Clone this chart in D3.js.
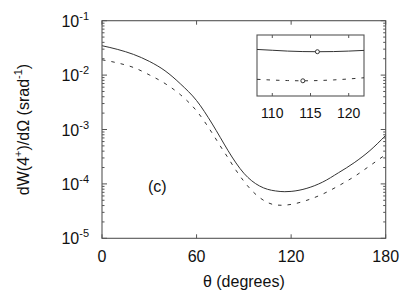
<!DOCTYPE html>
<html lang="en">
<head>
    <meta charset="UTF-8">
    <title>dW/dOmega vs theta</title>
    <script src="https://d3js.org/d3.v7.min.js"></script>
    <style>
        body { margin: 0; background: white; }
        svg text { font-family: "Liberation Sans", Arial, sans-serif; fill: #111; }
        .frame { fill: none; stroke: #555; stroke-width: 1.1px; }
        .tick { stroke: #555; stroke-width: 1px; }
        .curve { fill: none; stroke: #333; stroke-width: 1px; }
    </style>
</head>
<body>
<svg id="canvas" width="415" height="291"></svg>
<script>
    // main curves
    let theta = [0, 10, 20, 30, 40, 50, 60, 70, 75, 80, 85, 90, 95, 100, 105, 110, 116, 120, 130, 140, 150, 160, 170, 180];
    let solidValues = [0.0347, 0.0296, 0.024, 0.0179, 0.012, 0.0068, 0.0034, 0.00126, 0.000718, 0.000408, 0.000243, 0.000157,
        0.000114, 0.0000914, 0.0000796, 0.0000743, 0.0000719, 0.0000728, 0.000083, 0.000108, 0.00016, 0.000245, 0.00041, 0.00078];
    let thetaDashed = [0, 10, 20, 30, 40, 50, 60, 70, 75, 80, 85, 90, 95, 100, 105, 110, 114, 120, 130, 140, 150, 160, 170, 180];
    let dashedValues = [0.0191, 0.0167, 0.0138, 0.0101, 0.007, 0.0043, 0.0022, 0.00085, 0.0005, 0.0003, 0.000178, 0.000112,
        0.0000757, 0.0000561, 0.0000456, 0.0000411, 0.0000405, 0.000042, 0.00005, 0.000065, 0.000092, 0.000136, 0.000216, 0.000347];

    // inset (zoom around the minimum)
    let thetaInset = [108, 110, 112, 114, 116, 118, 120, 122];
    let solidInset = [7.52e-5, 7.40e-5, 7.28e-5, 7.21e-5, 7.19e-5, 7.21e-5, 7.28e-5, 7.38e-5];
    let dashedInset = [4.17e-5, 4.11e-5, 4.07e-5, 4.05e-5, 4.07e-5, 4.12e-5, 4.2e-5, 4.3e-5];
    let minTheta = [115.9, 114];
    let minValue = [7.19e-5, 4.05e-5];

    let xTicks = [0, 60, 120, 180];
    let yExponents = [-1, -2, -3, -4, -5];
    let insetTicks = [110, 115, 120];

    let svg = d3.select('svg');

    let m = {left: 102, right: 385.7, top: 20.7, bottom: 238.3};
    let x = d3.scaleLinear().domain([0, 180]).range([m.left, m.right]);
    let y = d3.scaleLog().domain([1e-5, 1e-1]).range([m.bottom, m.top]);

    // curves
    let line = d3.line()
        .x(function (d) { return x(d[0]); })
        .y(function (d) { return y(d[1]); })
        .curve(d3.curveMonotoneX);

    svg.append('path').attr('class', 'curve')
        .attr('d', line(d3.zip(theta, solidValues)));
    svg.append('path').attr('class', 'curve')
        .attr('stroke-dasharray', '3.5,6')
        .attr('d', line(d3.zip(thetaDashed, dashedValues)));

    // frame
    svg.append('rect').attr('class', 'frame')
        .attr('x', m.left).attr('y', m.top)
        .attr('width', m.right - m.left).attr('height', m.bottom - m.top);

    // x ticks, inward on bottom and top
    xTicks.forEach(function (t) {
        svg.append('line').attr('class', 'tick')
            .attr('x1', x(t)).attr('x2', x(t)).attr('y1', m.bottom).attr('y2', m.bottom - 4);
        svg.append('line').attr('class', 'tick')
            .attr('x1', x(t)).attr('x2', x(t)).attr('y1', m.top).attr('y2', m.top + 4);
        svg.append('text')
            .attr('x', x(t)).attr('y', 262)
            .attr('text-anchor', 'middle').attr('font-size', 16)
            .text(t);
    });

    // y ticks: majors at decades, minors 2..9, both sides
    y.ticks().forEach(function (v) {
        let lead = Math.round(v / Math.pow(10, Math.floor(Math.log10(v) + 1e-9)));
        let len = lead === 1 ? 5 : 2.5;
        svg.append('line').attr('class', 'tick')
            .attr('x1', m.left).attr('x2', m.left + len).attr('y1', y(v)).attr('y2', y(v));
        svg.append('line').attr('class', 'tick')
            .attr('x1', m.right).attr('x2', m.right - len).attr('y1', y(v)).attr('y2', y(v));
    });

    yExponents.forEach(function (e) {
        let t = svg.append('text')
            .attr('x', 89).attr('y', y(Math.pow(10, e)) + 6)
            .attr('text-anchor', 'end').attr('font-size', 16);
        t.append('tspan').text('10');
        t.append('tspan').attr('dy', -7).attr('font-size', 11).text('-' + Math.abs(e));
    });

    // axis titles
    svg.append('text')
        .attr('x', (m.left + m.right) / 2).attr('y', 287)
        .attr('text-anchor', 'middle').attr('font-size', 16)
        .text('θ (degrees)');

    let yl = svg.append('text')
        .attr('transform', 'translate(29,' + ((m.top + m.bottom) / 2) + ') rotate(-90)')
        .attr('text-anchor', 'middle').attr('font-size', 16);
    yl.append('tspan').text('dW(4');
    yl.append('tspan').attr('dy', -7).attr('font-size', 11).text('+');
    yl.append('tspan').attr('dy', 7).text(')/dΩ (srad');
    yl.append('tspan').attr('dy', -7).attr('font-size', 11).text('-1');
    yl.append('tspan').attr('dy', 7).text(')');

    svg.append('text')
        .attr('x', 148).attr('y', 192).attr('font-size', 16)
        .text('(c)');

    // inset
    let ins = {left: 257, right: 364, top: 35, bottom: 96};
    let xi = d3.scaleLinear().domain([108, 122]).range([ins.left, ins.right]);
    let yi = d3.scaleLog().domain([3e-5, 1e-4]).range([ins.bottom, ins.top]);

    let insetG = svg.append('g');
    insetG.append('rect')
        .attr('x', ins.left).attr('y', ins.top)
        .attr('width', ins.right - ins.left).attr('height', ins.bottom - ins.top)
        .attr('fill', 'white').attr('class', 'frame');

    let lineInset = d3.line()
        .x(function (d) { return xi(d[0]); })
        .y(function (d) { return yi(d[1]); })
        .curve(d3.curveMonotoneX);

    insetG.append('path').attr('class', 'curve')
        .attr('d', lineInset(d3.zip(thetaInset, solidInset)));
    insetG.append('path').attr('class', 'curve')
        .attr('stroke-dasharray', '3.5,6')
        .attr('d', lineInset(d3.zip(thetaInset, dashedInset)));

    insetG.selectAll('circle')
        .data(d3.zip(minTheta, minValue))
        .enter()
        .append('circle')
        .attr('cx', function (d) { return xi(d[0]); })
        .attr('cy', function (d) { return yi(d[1]); })
        .attr('r', 2)
        .attr('fill', 'white').attr('stroke', '#333').attr('stroke-width', 1);

    insetTicks.forEach(function (t) {
        insetG.append('line').attr('class', 'tick')
            .attr('x1', xi(t)).attr('x2', xi(t)).attr('y1', ins.bottom).attr('y2', ins.bottom - 3);
        insetG.append('line').attr('class', 'tick')
            .attr('x1', xi(t)).attr('x2', xi(t)).attr('y1', ins.top).attr('y2', ins.top + 3);
        insetG.append('text')
            .attr('x', xi(t)).attr('y', 118)
            .attr('text-anchor', 'middle').attr('font-size', 14)
            .text(t);
    });
</script>
</body>
</html>
